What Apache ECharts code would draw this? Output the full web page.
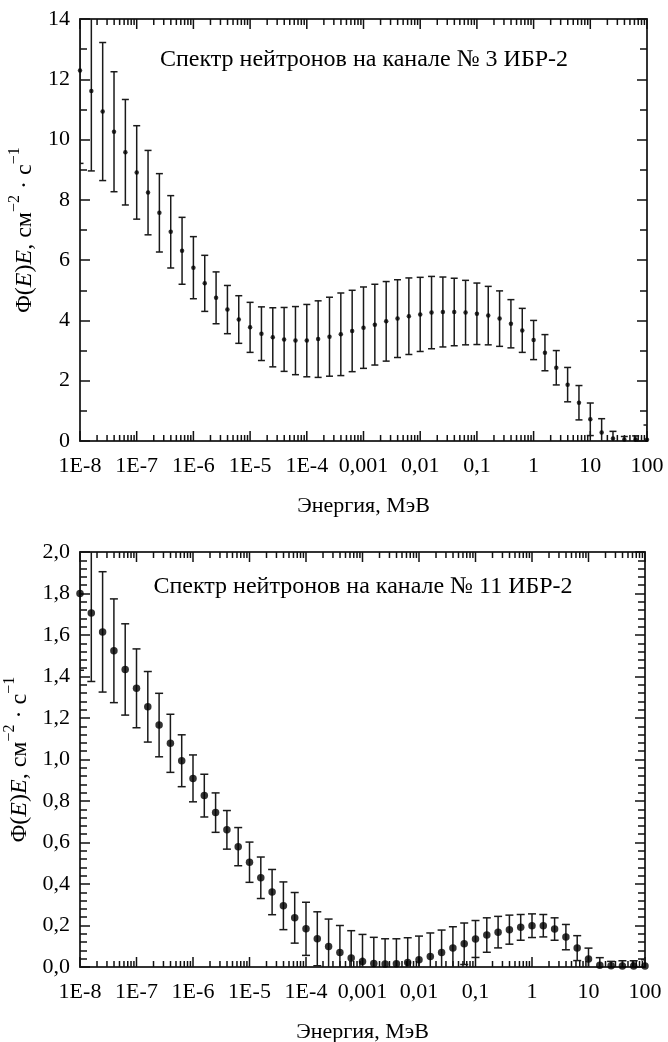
<!DOCTYPE html>
<html>
<head>
<meta charset="utf-8">
<script src="https://cdn.jsdelivr.net/npm/echarts@6/dist/echarts.min.js"></script>
<style>
html,body{margin:0;padding:0;background:#fff;}
#c{width:668px;height:1042px;}
</style>
</head>
<body>
<div id="c"></div>
<script>
// Energies (MeV), 5 points per decade
const energies = [
  1e-8, 1.585e-8, 2.512e-8, 3.981e-8, 6.31e-8,
  1e-7, 1.585e-7, 2.512e-7, 3.981e-7, 6.31e-7,
  1e-6, 1.585e-6, 2.512e-6, 3.981e-6, 6.31e-6,
  1e-5, 1.585e-5, 2.512e-5, 3.981e-5, 6.31e-5,
  1e-4, 1.585e-4, 2.512e-4, 3.981e-4, 6.31e-4,
  1e-3, 1.585e-3, 2.512e-3, 3.981e-3, 6.31e-3,
  0.01, 0.01585, 0.02512, 0.03981, 0.0631,
  0.1, 0.1585, 0.2512, 0.3981, 0.631,
  1, 1.585, 2.512, 3.981, 6.31,
  10, 15.85, 25.12, 39.81, 63.1,
  100
];

// Channel 3 spectrum
const ch3Values = [
  12.29, 11.61, 10.93, 10.26, 9.58,
  8.91, 8.24, 7.57, 6.94, 6.31,
  5.75, 5.23, 4.75, 4.36, 4.03,
  3.77, 3.56, 3.44, 3.37, 3.33,
  3.33, 3.38, 3.46, 3.54, 3.65,
  3.76, 3.86, 3.97, 4.06, 4.14,
  4.20, 4.26, 4.28, 4.28, 4.26,
  4.22, 4.16, 4.06, 3.89, 3.67,
  3.35, 2.93, 2.43, 1.87, 1.27,
  0.72, 0.28, 0.08, 0.05, 0.04,
  0.04
];
const ch3Errors = [
  3.08, 2.65, 2.29, 1.99, 1.75,
  1.55, 1.40, 1.30, 1.20, 1.11,
  1.03, 0.93, 0.86, 0.80, 0.79,
  0.83, 0.89, 0.98, 1.06, 1.13,
  1.20, 1.27, 1.31, 1.37, 1.35,
  1.35, 1.34, 1.32, 1.29, 1.27,
  1.23, 1.20, 1.16, 1.12, 1.07,
  1.02, 0.97, 0.92, 0.80, 0.73,
  0.65, 0.60, 0.57, 0.57, 0.57,
  0.54, 0.46, 0.24, 0.10, 0.13,
  0.49
];

// Channel 11 spectrum
const ch11Values = [
  1.800, 1.706, 1.615, 1.524, 1.434,
  1.343, 1.254, 1.166, 1.078, 0.994,
  0.909, 0.826, 0.744, 0.661, 0.580,
  0.505, 0.430, 0.361, 0.295, 0.237,
  0.184, 0.136, 0.099, 0.070, 0.043,
  0.027, 0.017, 0.014, 0.016, 0.022,
  0.035, 0.051, 0.070, 0.091, 0.112,
  0.135, 0.154, 0.168, 0.180, 0.191,
  0.199, 0.199, 0.183, 0.144, 0.091,
  0.038, 0.008, 0.006, 0.005, 0.005,
  0.005
];
const ch11Errors = [
  0.37, 0.33, 0.29, 0.25, 0.22,
  0.19, 0.17, 0.153, 0.14, 0.125,
  0.113, 0.103, 0.095, 0.093, 0.092,
  0.097, 0.100, 0.109, 0.115, 0.122,
  0.128, 0.130, 0.132, 0.130, 0.132,
  0.130, 0.126, 0.122, 0.120, 0.119,
  0.114, 0.113, 0.108, 0.103, 0.100,
  0.089, 0.083, 0.076, 0.070, 0.062,
  0.057, 0.054, 0.054, 0.061, 0.060,
  0.053, 0.037, 0.021, 0.025, 0.025,
  0.030
];

// Tick labels
const xTickLabels = ['1E-8','1E-7','1E-6','1E-5','1E-4','0,001','0,01','0,1','1','10','100'];
const ch3YLabels = ['0','2','4','6','8','10','12','14'];
const ch11YLabels = ['0,0','0,2','0,4','0,6','0,8','1,0','1,2','1,4','1,6','1,8','2,0'];

const titles = ['Спектр нейтронов на канале № 3 ИБР-2', 'Спектр нейтронов на канале № 11 ИБР-2'];
const xName = 'Энергия, МэВ';

// log-axis tick marks: decades (major) and 2..9 (minor) – axis decoration
const xTicks = [];
for (let e = -8; e <= 2; e++) {
  xTicks.push([Math.pow(10, e), 0, 10]);
  if (e < 2) for (let m = 2; m <= 9; m++) xTicks.push([m * Math.pow(10, e), 0, 6]);
}

const FONT = 'Liberation Serif';
const AX = '#333';
const TK = '#111';
const INK = '#000';

function xLabelFmt(v) {
  const i = Math.round(Math.log10(v)) + 8;
  return xTickLabels[i] !== undefined ? xTickLabels[i] : '';
}

const yNameRich = {
  a: {fontFamily: FONT, fontSize: 24, color: INK, lineHeight: 30, verticalAlign: 'bottom'},
  i: {fontFamily: FONT, fontSize: 24, color: INK, fontStyle: 'italic', lineHeight: 30, verticalAlign: 'bottom'},
  s: {fontFamily: FONT, fontSize: 16, color: INK, lineHeight: 16, verticalAlign: 'top'}
};
const yNameText = '{a|Φ(}{i|E}{a|)}{i|E}{a|, см}{s|−2}{a| · с}{s|−1}';

function makeErrRender(cap) {
  return function (params, api) {
    const x = api.value(0), y = api.value(1), e = api.value(2);
    const t = api.coord([x, y + e]);
    const b = api.coord([x, y - e]);
    const st = {stroke: '#1a1a1a', lineWidth: 1.5};
    return {
      type: 'group',
      children: [
        {type: 'line', shape: {x1: t[0], y1: t[1], x2: b[0], y2: b[1]}, style: st},
        {type: 'line', shape: {x1: t[0] - cap, y1: t[1], x2: t[0] + cap, y2: t[1]}, style: st},
        {type: 'line', shape: {x1: b[0] - cap, y1: b[1], x2: b[0] + cap, y2: b[1]}, style: st}
      ]
    };
  };
}

function xTickRender(params, api) {
  const cs = params.coordSys;
  const px = api.coord([api.value(0), api.value(1)])[0];
  const len = api.value(2);
  const st = {stroke: TK, lineWidth: 1.5};
  const yb = cs.y + cs.height, yt = cs.y;
  return {
    type: 'group',
    children: [
      {type: 'line', shape: {x1: px, y1: yb, x2: px, y2: yb - len}, style: st},
      {type: 'line', shape: {x1: px, y1: yt, x2: px, y2: yt + len}, style: st}
    ]
  };
}

function xAxisPair(gridIndex) {
  const common = {
    type: 'log', logBase: 10, min: 1e-8, max: 100, interval: 1,
    gridIndex: gridIndex,
    axisLine: {show: true, onZero: false, lineStyle: {color: AX, width: 2}},
    axisTick: {show: false},
    splitLine: {show: false},
    minorTick: {show: false}
  };
  return [
    Object.assign({}, common, {
      position: 'bottom',
      name: xName, nameLocation: 'middle', nameGap: 54,
      nameTextStyle: {fontFamily: FONT, fontSize: 22, color: INK},
      axisLabel: {show: true, interval: 0, margin: 14, fontFamily: FONT, fontSize: 22, color: INK,
        showMinLabel: true, showMaxLabel: true, formatter: xLabelFmt}
    }),
    Object.assign({}, common, {
      position: 'top',
      axisLabel: {show: false}
    })
  ];
}

function yAxisPair(gridIndex, max, interval, minorSplit, labels) {
  const common = {
    type: 'value', min: 0, max: max, interval: interval,
    gridIndex: gridIndex,
    axisLine: {show: true, onZero: false, lineStyle: {color: AX, width: 2}},
    axisTick: {show: true, inside: true, length: 10, lineStyle: {color: TK, width: 1.5}},
    minorTick: {show: true, splitNumber: minorSplit, length: 7, lineStyle: {color: TK, width: 1.5}},
    splitLine: {show: false},
    minorSplitLine: {show: false}
  };
  return [
    Object.assign({}, common, {
      position: 'left',
      name: yNameText, nameLocation: 'middle', nameGap: 40,
      nameTextStyle: {rich: yNameRich},
      axisLabel: {show: true, margin: 10, fontFamily: FONT, fontSize: 22, color: INK,
        formatter: function (v) { const i = Math.round(v / interval); return labels[i] !== undefined ? labels[i] : ''; }}
    }),
    Object.assign({}, common, {
      position: 'right',
      axisLabel: {show: false}
    })
  ];
}

const option = {
  animation: false,
  backgroundColor: '#fff',
  textStyle: {fontFamily: FONT},
  grid: [
    {left: 80, top: 19, width: 567, height: 422, containLabel: false, outerBoundsMode: 'none'},
    {left: 80, top: 552, width: 565, height: 415, containLabel: false, outerBoundsMode: 'none'}
  ],
  xAxis: [].concat(xAxisPair(0), xAxisPair(1)),
  yAxis: [].concat(
    yAxisPair(0, 14, 2, 2, ch3YLabels),
    yAxisPair(1, 2.0, 0.2, 5, ch11YLabels)
  ),
  graphic: [
    {type: 'text', x: 364, y: 60, style: {text: titles[0], fontFamily: FONT, fontSize: 24, fill: INK, align: 'center', verticalAlign: 'middle'}},
    {type: 'text', x: 363, y: 587, style: {text: titles[1], fontFamily: FONT, fontSize: 24, fill: INK, align: 'center', verticalAlign: 'middle'}}
  ],
  series: [
    {
      type: 'custom', xAxisIndex: 0, yAxisIndex: 0, silent: true, clip: false,
      renderItem: xTickRender, encode: {x: 0, y: 1},
      data: xTicks
    },
    {
      type: 'custom', xAxisIndex: 0, yAxisIndex: 0, silent: true, clip: true,
      renderItem: makeErrRender(3.5), encode: {x: 0, y: 1},
      data: energies.map((x, i) => [x, ch3Values[i], ch3Errors[i]])
    },
    {
      type: 'scatter', xAxisIndex: 0, yAxisIndex: 0, silent: true,
      symbol: 'circle', symbolSize: 4.5, itemStyle: {color: INK},
      data: energies.map((x, i) => [x, ch3Values[i]])
    },
    {
      type: 'custom', xAxisIndex: 2, yAxisIndex: 2, silent: true, clip: false,
      renderItem: xTickRender, encode: {x: 0, y: 1},
      data: xTicks
    },
    {
      type: 'custom', xAxisIndex: 2, yAxisIndex: 2, silent: true, clip: true,
      renderItem: makeErrRender(4), encode: {x: 0, y: 1},
      data: energies.map((x, i) => [x, ch11Values[i], ch11Errors[i]])
    },
    {
      type: 'scatter', xAxisIndex: 2, yAxisIndex: 2, silent: true,
      symbol: 'circle', symbolSize: 7.5, itemStyle: {color: INK},
      data: energies.map((x, i) => [x, ch11Values[i]])
    }
  ]
};

const chart = echarts.init(document.getElementById('c'), null, {renderer: 'canvas'});
chart.setOption(option);
</script>
</body>
</html>
